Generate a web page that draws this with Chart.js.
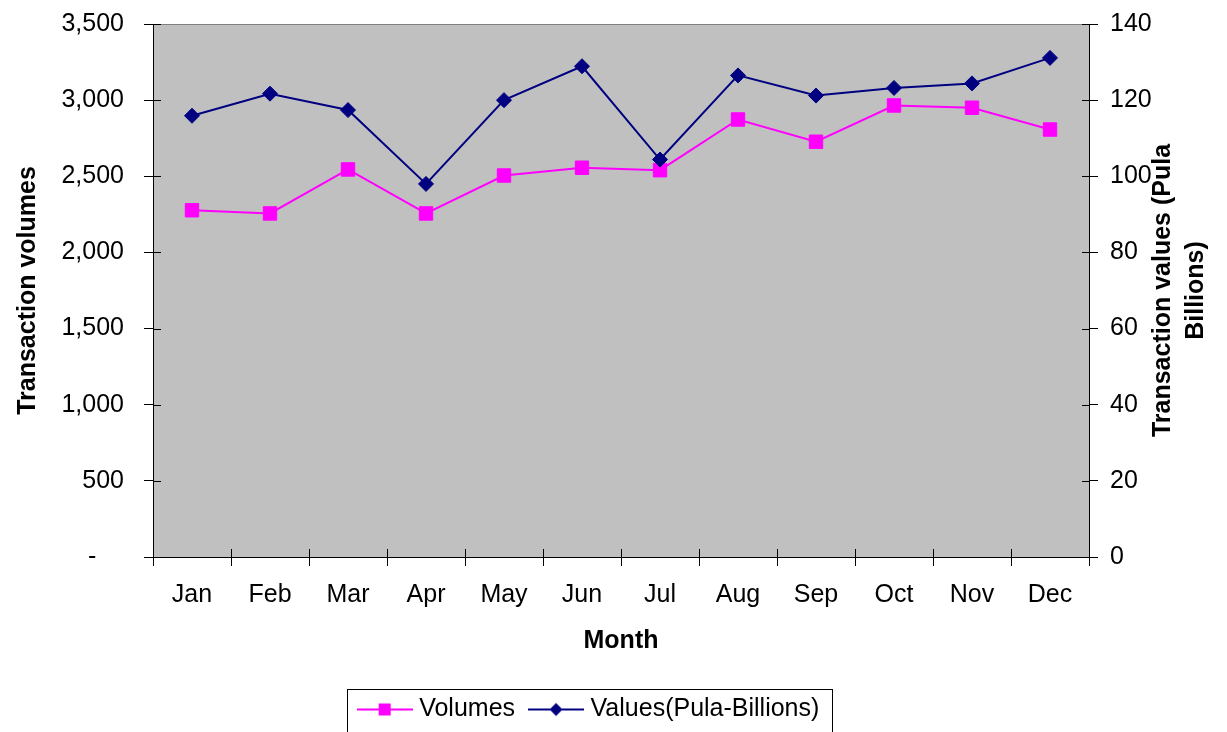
<!DOCTYPE html>
<html>
<head>
<meta charset="utf-8">
<script src="https://cdn.jsdelivr.net/npm/chart.js@4.4.1/dist/chart.umd.min.js"></script>
<style>
  html, body { margin: 0; padding: 0; background: #fff; }
  #wrap { width: 1227px; height: 732px; position: relative; }
</style>
</head>
<body>
<div id="wrap"><canvas id="txChart"></canvas></div>
<script>
// Monthly transaction data
const months = ["Jan", "Feb", "Mar", "Apr", "May", "Jun", "Jul", "Aug", "Sep", "Oct", "Nov", "Dec"];
const volumes = [2277, 2256, 2545, 2256, 2505, 2556, 2540, 2873, 2727, 2965, 2950, 2807];
const values = [115.9, 121.7, 117.4, 98.0, 120.0, 128.9, 104.4, 126.5, 121.2, 123.2, 124.4, 131.1];
const seriesNames = ["Volumes", "Values(Pula-Billions)"];

const leftTicks = { min: 0, max: 3500, step: 500 };
const rightTicks = { min: 0, max: 140, step: 20 };
const rightTitle = ["Transaction values (Pula", "Billions)"];

const FONT = "'Liberation Sans', Arial, Helvetica, sans-serif";
const PINK = '#FF00FF';
const NAVY = '#000080';

// legend sample: short line with the marker in the middle
function legendIcon(color, shape) {
  const c = document.createElement('canvas');
  c.width = 56; c.height = 16;
  const g = c.getContext('2d');
  g.strokeStyle = color; g.lineWidth = 2;
  g.beginPath(); g.moveTo(0, 8); g.lineTo(56, 8); g.stroke();
  g.fillStyle = color;
  if (shape === 'square') {
    g.fillRect(22, 2, 12, 12);
  } else {
    g.beginPath();
    g.moveTo(28, 1.5); g.lineTo(34.5, 8); g.lineTo(28, 14.5); g.lineTo(21.5, 8);
    g.closePath(); g.fill();
  }
  return c;
}
const icons = [legendIcon(PINK, 'square'), legendIcon(NAVY, 'diamond')];

// grey plot area with a darker frame
const plotBg = {
  id: 'plotBg',
  beforeDraw(chart) {
    const { ctx, chartArea: a } = chart;
    ctx.save();
    ctx.fillStyle = '#C0C0C0';
    ctx.fillRect(a.left, a.top, a.right - a.left, a.bottom - a.top);
    ctx.strokeStyle = '#808080';
    ctx.lineWidth = 1;
    ctx.strokeRect(a.left + 0.5, Math.round(a.top) + 0.5, a.right - a.left, a.bottom - a.top);
    ctx.restore();
  }
};

// inner half of the tick marks (Excel style crossing ticks) + legend frame + right title
const extras = {
  id: 'extras',
  afterDraw(chart) {
    const { ctx, chartArea: a, scales } = chart;
    ctx.save();
    ctx.strokeStyle = '#000';
    ctx.lineWidth = 1;
    ctx.beginPath();
    scales.y.ticks.forEach((t, i) => {
      const py = Math.round(scales.y.getPixelForTick(i)) + 0.5;
      ctx.moveTo(a.left, py); ctx.lineTo(a.left + 8, py);
    });
    scales.y1.ticks.forEach((t, i) => {
      const py = Math.round(scales.y1.getPixelForTick(i)) + 0.5;
      ctx.moveTo(a.right - 7, py); ctx.lineTo(a.right, py);
    });
    const n = scales.x.ticks.length;
    const step = scales.x.getPixelForTick(1) - scales.x.getPixelForTick(0);
    for (let i = 0; i <= n; i++) {
      const px = Math.round(scales.x.getPixelForTick(0) - step / 2 + i * step) + 0.5;
      ctx.moveTo(px, a.bottom - 8); ctx.lineTo(px, a.bottom);
    }
    ctx.stroke();

    // legend frame
    const hb = chart.legend.legendHitBoxes;
    if (hb && hb.length) {
      const last = hb[hb.length - 1];
      const l = Math.round(hb[0].left - 16) + 0.5;
      const r = Math.round(last.left + last.width + 13) + 0.5;
      const t = Math.round(hb[0].top - 8) + 0.5;
      ctx.strokeRect(l, t, r - l, 60);
    }

    // right axis title, reading bottom to top
    ctx.fillStyle = '#000';
    ctx.font = 'bold 25px ' + FONT;
    ctx.textAlign = 'center';
    ctx.textBaseline = 'middle';
    const cy = (a.top + a.bottom) / 2;
    const xs = [a.right + 74, a.right + 107];
    rightTitle.forEach((line, i) => {
      ctx.save();
      ctx.translate(xs[i], cy);
      ctx.rotate(-Math.PI / 2);
      ctx.fillText(line, 0, 0);
      ctx.restore();
    });
    ctx.restore();
  }
};

Chart.defaults.font.family = FONT;
Chart.defaults.font.size = 25;
Chart.defaults.color = '#000';

const ctx = document.getElementById('txChart').getContext('2d');
new Chart(ctx, {
  type: 'line',
  data: {
    labels: months,
    datasets: [{
      label: seriesNames[0],
      data: volumes,
      yAxisID: 'y',
      order: 1,
      borderColor: PINK,
      backgroundColor: PINK,
      borderWidth: 2,
      pointStyle: 'rect',
      pointRadius: 9.5,
      pointBorderWidth: 1,
      pointHoverRadius: 9.5,
      tension: 0
    }, {
      label: seriesNames[1],
      data: values,
      yAxisID: 'y1',
      order: 0,
      borderColor: NAVY,
      backgroundColor: NAVY,
      borderWidth: 2,
      pointStyle: 'rectRot',
      pointRadius: 7.5,
      pointBorderWidth: 1,
      pointHoverRadius: 7.5,
      tension: 0
    }]
  },
  options: {
    responsive: true,
    maintainAspectRatio: false,
    animation: false,
    layout: { padding: { top: 24, right: 45, bottom: 0, left: 0 } },
    plugins: {
      tooltip: { enabled: false },
      legend: {
        position: 'bottom',
        labels: {
          usePointStyle: true,
          pointStyleWidth: 44,
          padding: 19,
          font: { size: 25 },
          generateLabels: (chart) => chart.data.datasets.map((ds, i) => ({
            text: ds.label,
            pointStyle: icons[i],
            fillStyle: ds.backgroundColor,
            strokeStyle: ds.borderColor,
            lineWidth: 0,
            hidden: false,
            datasetIndex: i
          }))
        }
      }
    },
    scales: {
      x: {
        type: 'category',
        offset: true,
        grid: { offset: true, drawOnChartArea: false, drawTicks: true, tickLength: 9, color: '#000' },
        border: { color: '#000', width: 1 },
        ticks: { padding: 14, maxRotation: 0, autoSkip: false },
        title: { display: true, text: 'Month', font: { size: 25, weight: 'bold' }, padding: { top: 0, bottom: 22 } },
        afterFit: (s) => { s.height = 121; }
      },
      y: {
        position: 'left',
        min: leftTicks.min,
        max: leftTicks.max,
        grid: { drawOnChartArea: false, drawTicks: true, tickLength: 9, color: '#000' },
        border: { color: '#000', width: 1 },
        ticks: {
          stepSize: leftTicks.step,
          padding: 20,
          callback: (v) => v === 0 ? '-    ' : v.toLocaleString('en-US')
        },
        title: { display: true, text: 'Transaction volumes', font: { size: 25, weight: 'bold' }, padding: { top: 13, bottom: 0 } },
        afterFit: (s) => { s.width = 153; s.paddingTop = 0; s.paddingBottom = 0; }
      },
      y1: {
        position: 'right',
        min: rightTicks.min,
        max: rightTicks.max,
        grid: { drawOnChartArea: false, drawTicks: true, tickLength: 9, color: '#000' },
        border: { color: '#000', width: 1 },
        ticks: { stepSize: rightTicks.step, padding: 12 },
        afterFit: (s) => { s.width = 93; s.paddingTop = 0; s.paddingBottom = 0; }
      }
    }
  },
  plugins: [plotBg, extras]
});
</script>
</body>
</html>
